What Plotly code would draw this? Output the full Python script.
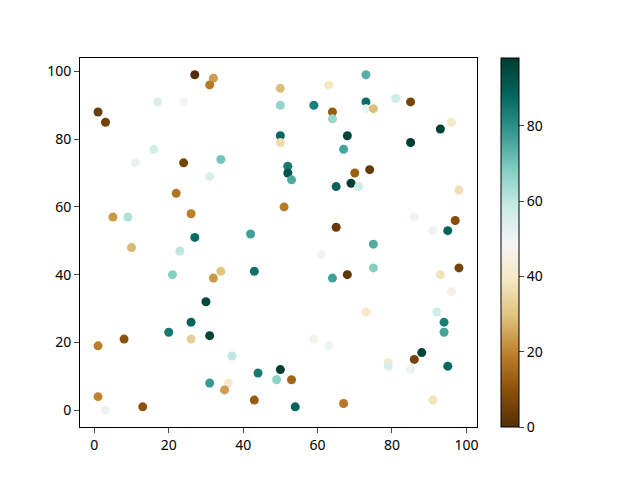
import plotly.graph_objects as go

# scatter data
x_vals = [27, 32, 31, 50, 63, 73, 17, 24, 1, 3,
          50, 59, 64, 64, 73, 73, 75, 81, 85, 96,
          93, 85, 50, 50, 68, 67, 16, 11, 24, 34,
          31, 52, 52, 53, 65, 69, 71, 70, 74, 98,
          22, 26, 5, 9, 27, 23, 42, 51, 65, 61,
          75, 64, 68, 75, 86, 91, 95, 97, 98, 93,
          96, 10, 21, 32, 34, 43, 30, 20, 26, 26,
          31, 1, 8, 37, 31, 36, 35, 44, 49, 50,
          53, 43, 54, 1, 3, 13, 59, 63, 73, 79,
          79, 85, 86, 88, 92, 94, 94, 95, 91, 67]
y_vals = [99, 98, 96, 95, 96, 99, 91, 91, 88, 85,
          90, 90, 88, 86, 91, 89, 89, 92, 91, 85,
          83, 79, 81, 79, 81, 77, 77, 73, 73, 74,
          69, 72, 70, 68, 66, 67, 66, 70, 71, 65,
          64, 58, 57, 57, 51, 47, 52, 60, 54, 46,
          49, 39, 40, 42, 57, 53, 53, 56, 42, 40,
          35, 48, 40, 39, 41, 41, 32, 23, 26, 21,
          22, 19, 21, 16, 8, 8, 6, 11, 9, 12,
          9, 3, 1, 4, 0, 1, 21, 19, 29, 14,
          13, 12, 15, 17, 29, 26, 23, 13, 3, 2]
c_vals = [0, 24, 18, 29, 39, 74, 55, 48, 4, 5,
          66, 83, 12, 65, 87, 51, 29, 57, 6, 41,
          97, 98, 88, 36, 96, 76, 56, 52, 6, 70,
          55, 84, 92, 75, 89, 98, 58, 13, 3, 37,
          17, 19, 23, 62, 87, 60, 77, 18, 3, 50,
          75, 77, 2, 68, 47, 51, 89, 9, 6, 38,
          45, 28, 68, 23, 30, 86, 95, 84, 89, 33,
          96, 19, 10, 60, 78, 41, 24, 84, 67, 98,
          14, 12, 89, 20, 51, 10, 46, 51, 41, 40,
          55, 51, 6, 96, 57, 83, 76, 88, 38, 18]
cbar_ticks = [0, 20, 40, 60, 80]

font = dict(family="Noto Sans", size=14, color="black")

pts = go.Scatter(
    x=x_vals, y=y_vals, mode="markers",
    marker=dict(
        size=9, color=c_vals, colorscale="BrBG", cmin=min(c_vals), cmax=max(c_vals),
        line=dict(width=0),
        colorbar=dict(
            x=1.0605, xanchor="left", y=0.5, yanchor="middle",
            len=1, lenmode="fraction", thickness=18,
            outlinewidth=1, outlinecolor="black",
            tickvals=cbar_ticks, ticks="outside", ticklen=5, tickwidth=1,
            tickfont=font, xpad=0, ypad=0,
        ),
    ),
)

fig = go.Figure(data=[pts])
# the page body adds 8px, so the margins are pulled in by that much
fig.update_layout(
    width=640, height=480,
    margin=dict(l=72, r=171, t=50, b=61),
    paper_bgcolor="white", plot_bgcolor="white",
    font=font, showlegend=False,
    xaxis=dict(range=[-3.85, 102.85], tickvals=[0, 20, 40, 60, 80, 100],
               showgrid=False, zeroline=False, showline=True, mirror=True,
               linecolor="black", linewidth=1, ticks="outside", ticklen=5),
    yaxis=dict(range=[-4.95, 103.95], tickvals=[0, 20, 40, 60, 80, 100],
               showgrid=False, zeroline=False, showline=True, mirror=True,
               linecolor="black", linewidth=1, ticks="outside", ticklen=5),
)
fig.write_html("out.html")
